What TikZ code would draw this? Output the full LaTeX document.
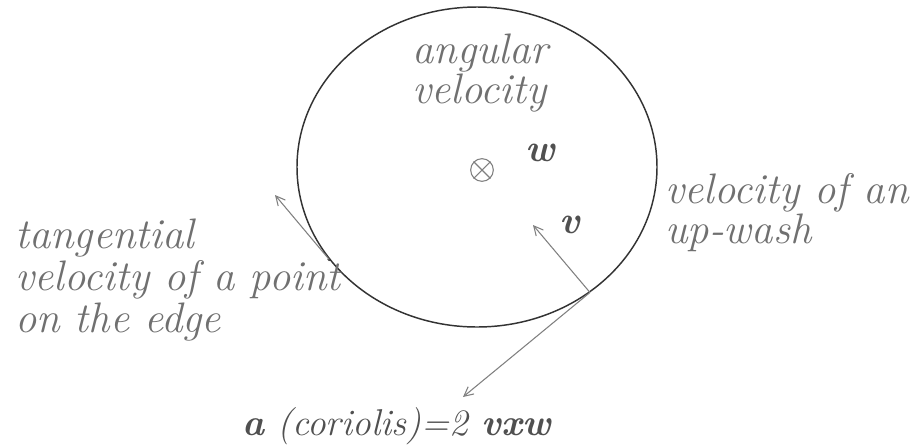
\documentclass[tikz,border=0pt]{standalone}
\usepackage{fontspec}
\usetikzlibrary{shapes.geometric,arrows.meta}
\definecolor{labelgray}{HTML}{707070}
\definecolor{darkgray}{HTML}{505050}
\definecolor{arrowgray}{HTML}{808080}
\tikzset{
  lbl/.style={text=labelgray, font=\fontsize{32}{30}\selectfont\itshape, anchor=base west, inner sep=0pt, align=left},
  vec/.style={text=darkgray, font=\fontsize{29}{30}\selectfont\bfseries\itshape, inner sep=0pt},
  arr/.style={draw=arrowgray, line width=0.8pt, -{Straight Barb[length=7pt,width=7pt]}},
}
\begin{document}
\begin{tikzpicture}[x=0.75pt,y=-0.75pt]
\useasboundingbox (0,0) rectangle (915,444);
% wheel
\node[ellipse, draw=black!80, line width=1.1pt, minimum width=270pt, minimum height=240pt, inner sep=0pt] (wheel) at (477,167) {};
% center symbol
\node[circle, draw=arrowgray, line width=0.8pt, minimum size=17pt, inner sep=0pt] (axis) at (482,170) {};
\draw[arrowgray, line width=0.8pt] (axis.45) -- (axis.225) (axis.135) -- (axis.315);
% labels
\node[lbl] (ang) at (412,63) {angular};
\node[lbl] (angv) at (412,103) {velocity};
\node[vec] (w) at (540,153) {w};
\node[vec] (v) at (570,225) {v};
\node[lbl] (tan1) at (15,248) {tangential};
\node[lbl] (tan2) at (15,290) {velocity of a point};
\node[lbl] (tan3) at (15,332) {on the edge};
\node[lbl] (up1) at (665,203) {velocity of an};
\node[lbl] (up2) at (665,243) {up-wash};
\node[text=darkgray, font=\fontsize{28}{30}\selectfont\itshape, anchor=base west, inner sep=0pt] (cor) at (242,435) {\textbf{a} (coriolis)=2 \textbf{vxw}};
% points and arrows
\coordinate (P) at (wheel.-48);
\coordinate (T) at (wheel.212);
\coordinate (vtip) at (533,225);
\coordinate (atip) at (463,397);
\coordinate (ttip) at (275,195);
\fill[black!80] (T) circle (1.3pt);
\draw[arr] (T) -- (ttip);
\draw[arr] (P) -- (vtip);
\draw[arr] (P) -- (atip);
\end{tikzpicture}
\end{document}
